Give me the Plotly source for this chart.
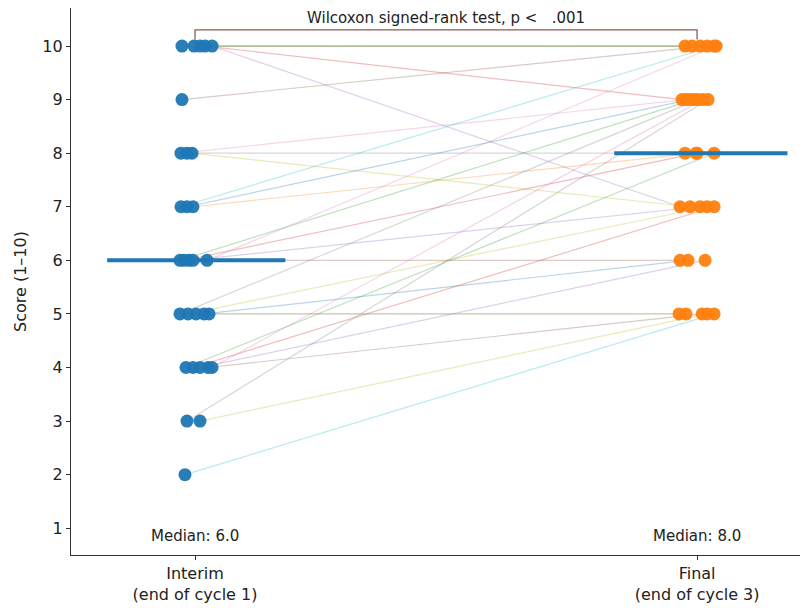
import plotly.graph_objects as go

# ---- data ----
categories = ["Interim<br>(end of cycle 1)", "Final<br>(end of cycle 3)"]
interim = [10, 10, 10, 10, 10, 9, 8, 8, 8, 7, 7, 7, 6, 6, 6, 6, 6,
           5, 5, 5, 5, 5, 4, 4, 4, 4, 4, 3, 3, 2]
final = [10, 10, 10, 9, 7, 10, 9, 8, 7, 10, 9, 8, 9, 8, 7, 6, 10,
         9, 7, 5, 6, 5, 8, 7, 6, 5, 9, 9, 5, 5]
jitter_interim = [-0.026, -0.002, 0.010, 0.020, 0.034, -0.026, -0.028, -0.016, -0.006,
                  -0.028, -0.016, -0.004, -0.030, -0.022, -0.012, -0.004, 0.024,
                  -0.030, -0.014, 0.002, 0.018, 0.028, -0.018, -0.004, 0.010, 0.026, 0.034,
                  -0.016, 0.010, -0.020]
jitter_final = [-0.024, -0.010, 0.006, -0.030, -0.034, 0.020, -0.022, -0.024, -0.014,
                0.034, -0.014, -0.002, -0.006, 0.000, 0.006, -0.034, 0.038,
                0.002, 0.020, -0.036, -0.018, -0.022, 0.034, 0.034, 0.016, 0.010, 0.012,
                0.022, 0.020, 0.034]
median_interim = 6.0
median_final = 8.0
test_label = "Wilcoxon signed-rank test, p <   .001"
y_ticks = [1, 2, 3, 4, 5, 6, 7, 8, 9, 10]

tab10 = ["#1f77b4", "#ff7f0e", "#2ca02c", "#d62728", "#9467bd",
         "#8c564b", "#e377c2", "#7f7f7f", "#bcbd22", "#17becf"]

fig = go.Figure()

# paired lines
for i, (a, b) in enumerate(zip(interim, final)):
    fig.add_trace(go.Scatter(
        x=[0 + jitter_interim[i], 1 + jitter_final[i]], y=[a, b],
        mode="lines", line=dict(color=tab10[i % 10], width=1.2),
        opacity=0.3, hoverinfo="skip", showlegend=False))

# points
fig.add_trace(go.Scatter(
    x=[0 + j for j in jitter_interim], y=interim, mode="markers",
    marker=dict(color="#1f77b4", size=13, opacity=0.95, line=dict(width=0)),
    showlegend=False))
fig.add_trace(go.Scatter(
    x=[1 + j for j in jitter_final], y=final, mode="markers",
    marker=dict(color="#ff7f0e", size=13, opacity=0.95, line=dict(width=0)),
    showlegend=False))

# median lines
fig.add_trace(go.Scatter(x=[-0.175, 0.18], y=[median_interim, median_interim],
                         mode="lines", line=dict(color="#1f77b4", width=4),
                         showlegend=False))
fig.add_trace(go.Scatter(x=[0.835, 1.18], y=[median_final, median_final],
                         mode="lines", line=dict(color="#1f77b4", width=4),
                         showlegend=False))

# significance bracket
fig.add_trace(go.Scatter(x=[0, 0, 1, 1], y=[10.12, 10.3, 10.3, 10.12],
                         mode="lines", line=dict(color="#8a5e55", width=1.3),
                         showlegend=False, hoverinfo="skip"))

font_family = "DejaVu Sans"
fig.add_annotation(x=0.5, y=10.3, text=test_label, showarrow=False,
                   yanchor="bottom", yshift=1,
                   font=dict(family=font_family, size=15, color="#222"))
fig.add_annotation(x=0, y=0.85, text=f"Median: {median_interim:.1f}", showarrow=False,
                   font=dict(family=font_family, size=15, color="#222"))
fig.add_annotation(x=1, y=0.85, text=f"Median: {median_final:.1f}", showarrow=False,
                   font=dict(family=font_family, size=15, color="#222"))

fig.update_layout(
    width=810, height=608,
    margin=dict(l=63, r=18, t=0, b=61),
    plot_bgcolor="white", paper_bgcolor="white",
    font=dict(family=font_family, size=16, color="#222"),
    showlegend=False,
)
fig.update_xaxes(
    range=[-0.247, 1.205], tickvals=[0, 1], ticktext=categories, automargin=False,
    showgrid=False, zeroline=False, showline=True, linecolor="#333", linewidth=1.2,
    ticks="outside", ticklen=4, tickcolor="#333", tickfont=dict(size=16))
fig.update_yaxes(
    range=[0.5, 10.71], tickvals=y_ticks, automargin=False,
    showgrid=False, zeroline=False, showline=True, linecolor="#333", linewidth=1.2,
    ticks="outside", ticklen=4, tickcolor="#333", tickfont=dict(size=16),
    title=dict(text="Score (1–10)", font=dict(size=16), standoff=11))

fig.write_html("out.html")
